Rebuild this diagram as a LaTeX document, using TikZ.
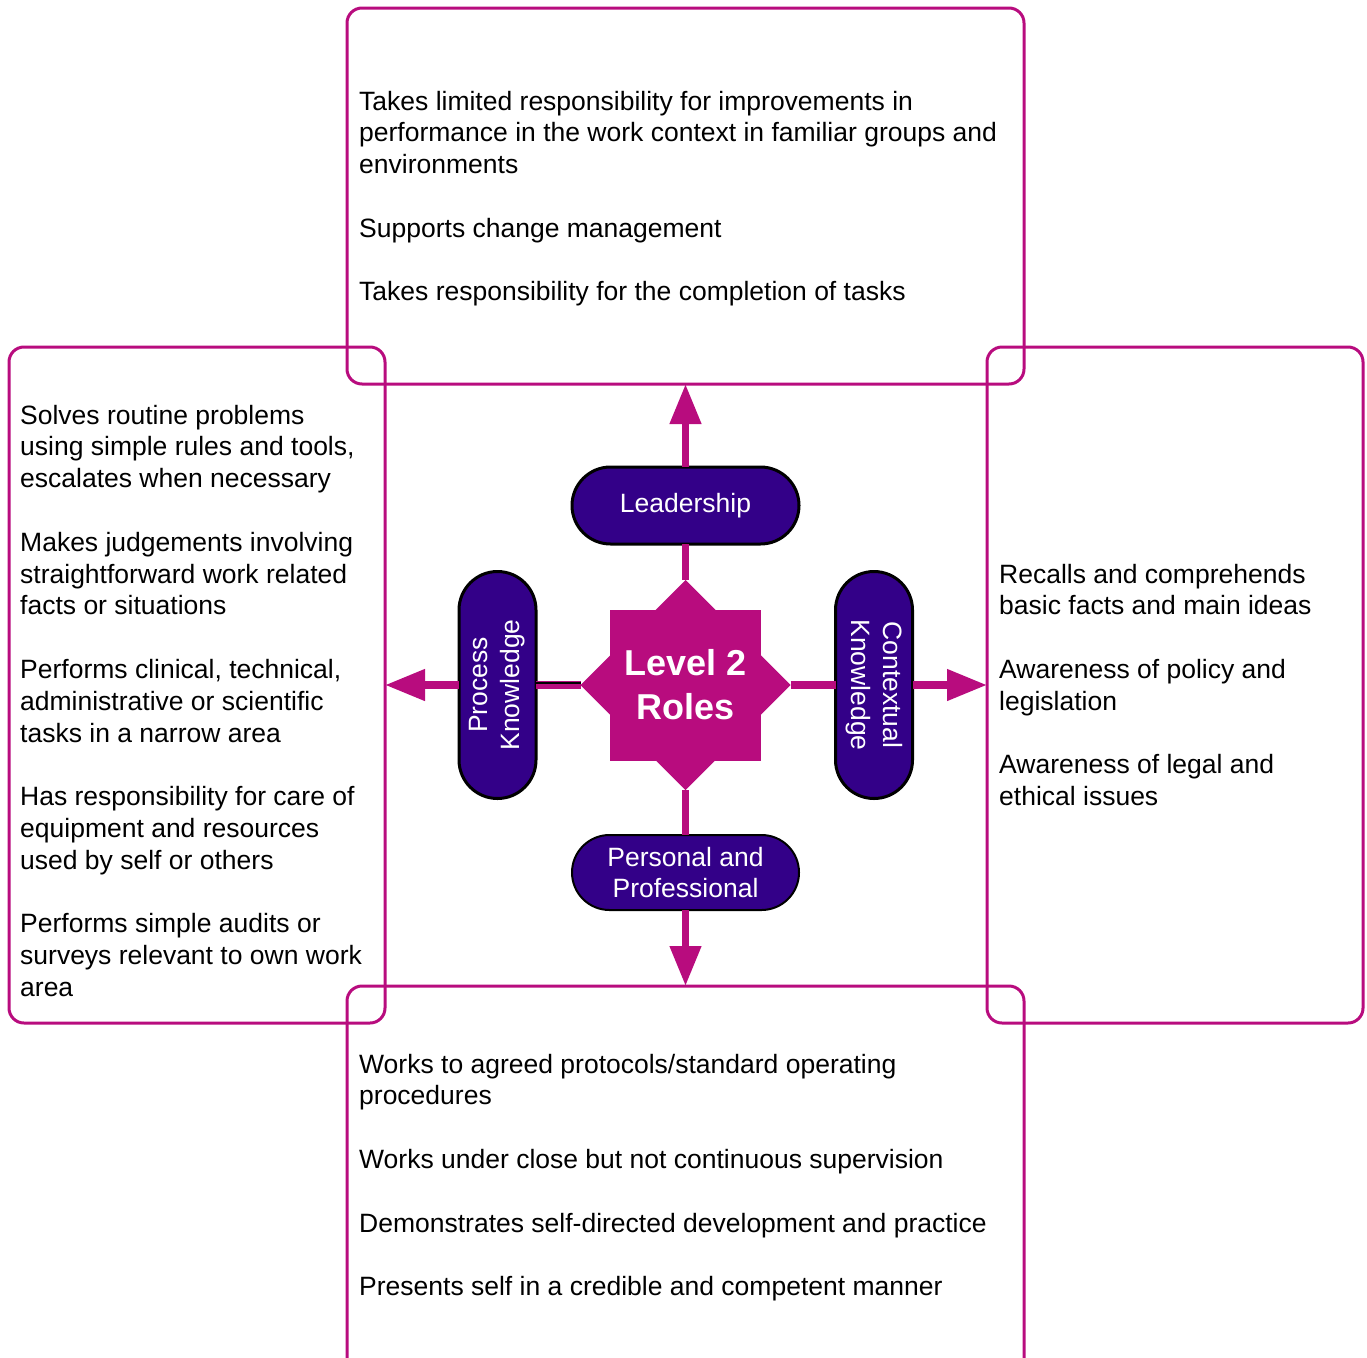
\documentclass[tikz,border=0pt]{standalone}
\usepackage{fontspec}
\setmainfont{Liberation Sans}
\usetikzlibrary{arrows.meta,shapes.geometric,shapes.misc}
\definecolor{mag}{RGB}{184,12,126}
\definecolor{ind}{RGB}{51,0,136}
\begin{document}
\begin{tikzpicture}[x=1pt,y=-1pt,
  box/.style={draw=mag,line width=3pt,rounded corners=15pt,inner sep=0pt,outer sep=0pt,anchor=north west},
  pill/.style={rounded rectangle,draw=black,line width=3pt,fill=ind,text=white,inner sep=0pt,outer sep=0pt,
    minimum width=227pt,minimum height=77pt,align=center,font=\fontsize{26.5}{31.8}\selectfont},
  para/.style={anchor=base west,inner sep=0pt,align=left,font=\fontsize{26.5}{31.8}\selectfont},
  conn/.style={draw=mag,line width=7.5pt},
  arr/.style={conn,-{Triangle[length=40pt,width=30pt]}}]
\useasboundingbox (0,0) rectangle (1367,1357);
\clip (0,0) rectangle (1367,1357);
% boxes
\node[box,minimum width=677pt,minimum height=376pt] (topbox) at (347,8) {};
\node[box,minimum width=376pt,minimum height=676pt] (leftbox) at (9,347) {};
\node[box,minimum width=376pt,minimum height=676pt] (rightbox) at (987,347) {};
\node[box,minimum width=677pt,minimum height=394pt] (botbox) at (347,986) {};
% centre star
\node[diamond,fill=mag,minimum width=210pt,minimum height=210pt,inner sep=0pt,outer sep=0pt] (dia) at (685.5,685) {};
\node[fill=mag,minimum size=151pt,inner sep=0pt,outer sep=0pt] (sq) at (685.5,685) {};
\node[text=white,align=center,font=\fontsize{36}{44}\selectfont\bfseries] (core) at (685.5,685) {Level 2\\Roles};
% pills
\node[pill] (lead) at (685.5,505.5) {Leadership};
\node[pill,line width=2pt,minimum height=75pt] (pers) at (685.5,872.5) {Personal and\\Professional};
\node[pill,rotate=90] (proc) at (497.5,685) {Process\\Knowledge};
\node[pill,rotate=-90] (ctx) at (874,685) {Contextual\\Knowledge};
% connectors
\draw[conn] (dia.north) -- (lead.south);
\draw[arr] (lead.north) -- (topbox.south);
\draw[conn] (dia.south) -- (pers.north);
\draw[arr] (pers.south) -- (botbox.north);
\draw[conn] (dia.west) -- (proc.south);
\draw[black,line width=1.5pt] ([yshift=2pt]proc.south) -- ([yshift=2pt]dia.west);
\draw[arr] (proc.north) -- (leftbox.east);
\draw[conn] (dia.east) -- (ctx.south);
\draw[arr] (ctx.north) -- (rightbox.west);
% texts top (anchor = baseline of last line)
\node[para] (t1) at (359,173.6) {Takes limited responsibility for improvements in\\performance in the work context in familiar groups and\\environments};
\node[para] (t2) at (359,237.2) {Supports change management};
\node[para] (t3) at (359,300.8) {Takes responsibility for the completion of tasks};
% left
\node[para] (l1) at (20,487.6) {Solves routine problems\\using simple rules and tools,\\escalates when necessary};
\node[para] (l2) at (20,614.8) {Makes judgements involving\\straightforward work related\\facts or situations};
\node[para] (l3) at (20,742) {Performs clinical, technical,\\administrative or scientific\\tasks in a narrow area};
\node[para] (l4) at (20,869.2) {Has responsibility for care of\\equipment and resources\\used by self or others};
\node[para] (l5) at (20,996.4) {Performs simple audits or\\surveys relevant to own work\\area};
% right
\node[para] (r1) at (999,614.8) {Recalls and comprehends\\basic facts and main ideas};
\node[para] (r2) at (999,710.2) {Awareness of policy and\\legislation};
\node[para] (r3) at (999,805.6) {Awareness of legal and\\ethical issues};
% bottom
\node[para] (b1) at (359,1104.8) {Works to agreed protocols/standard operating\\procedures};
\node[para] (b2) at (359,1168.4) {Works under close but not continuous supervision};
\node[para] (b3) at (359,1232) {Demonstrates self-directed development and practice};
\node[para] (b4) at (359,1295.6) {Presents self in a credible and competent manner};
\end{tikzpicture}
\end{document}
